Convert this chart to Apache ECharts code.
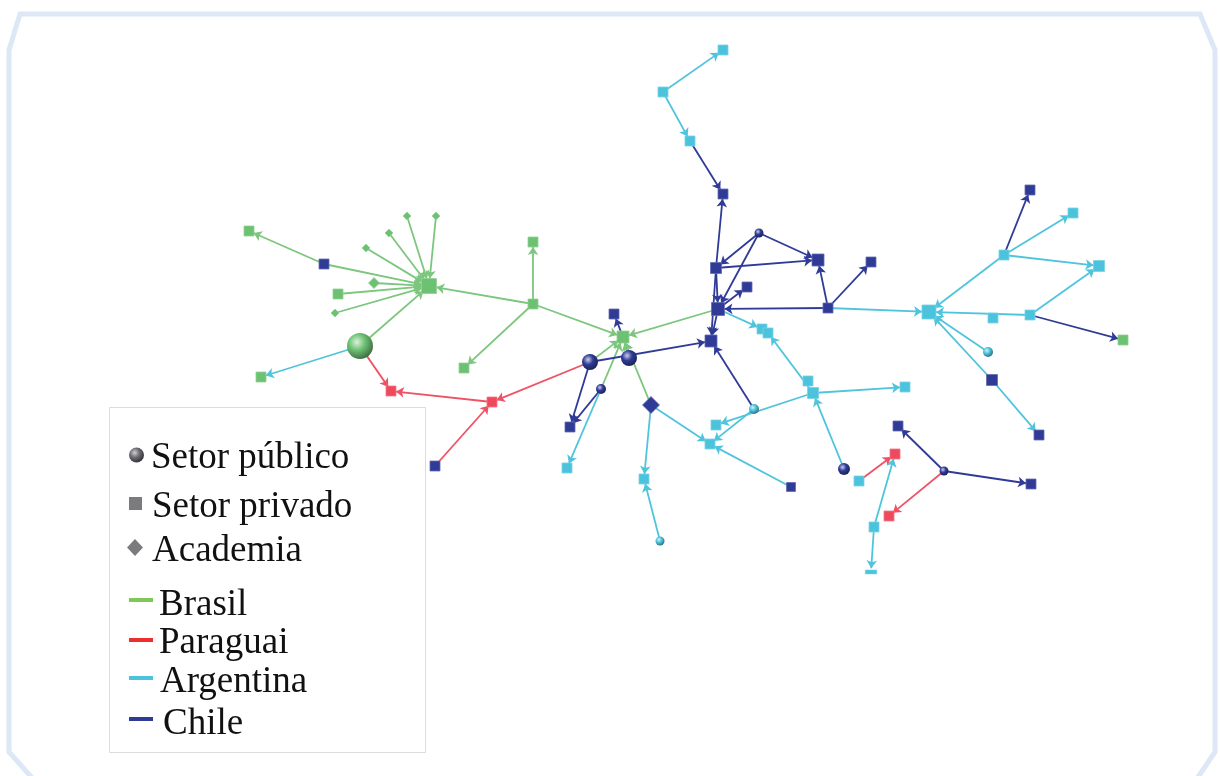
<!DOCTYPE html>
<html>
<head>
<meta charset="utf-8">
<script src="https://cdn.jsdelivr.net/npm/echarts@6/dist/echarts.min.js"></script>
<style>
html,body{margin:0;padding:0;background:#fff;}
#chart{width:1220px;height:776px;}
</style>
</head>
<body>
<div id="chart"></div>
<script>
// ---------------- DATA ----------------
const nodeNames = ['B_hub','B1','C_a','D1','D2','D3','D4','D5','B2','D6','S_BR','B3','B4','B5','B6','B7',
  'P1','P2','C_b','S1','S2','S3','C1','Dm','C2','A1','A2','A3','C3','Ch','C4','C5','S4','C6','C7','C8','C9',
  'A9','A5','A10','A6a','A6b','A_hub','A11','C10','A12','A13','A14','A15','B8','A16','C11','C12',
  'A7','A8','A17','S5','A18','A4','C13','S6','C14','P3','A19','S7','C15','P4','A20','A21'];
const nodeX = [429,249,324,407,436,389,366,374,338,335,360,261,533,533,464,623,
  391,492,435,590,629,601,614,651,570,567,644,660,711,718,716,723,759,818,747,828,871,
  723,663,690,762,768,929,1004,1030,1073,1099,993,1030,1123,988,992,1039,
  808,813,905,754,716,710,791,844,898,895,859,944,1031,889,874,871];
const nodeY = [286,231,264,216,216,233,248,283,294,313,346,377,242,304,368,337,
  391,402,466,362,358,389,314,405,427,468,479,541,341,309,268,194,233,260,287,308,262,
  50,92,141,329,333,312,255,190,213,266,318,315,340,352,380,435,
  381,393,387,409,425,444,487,469,426,454,481,471,484,516,527,572];
// sector: pub = Setor público, priv = Setor privado, acad = Academia, end = stub
const nodeSector = ['priv','priv','priv','acad','acad','acad','acad','acad','priv','acad','pub','priv','priv','priv','priv','priv',
  'priv','priv','priv','pub','pub','pub','priv','acad','priv','priv','priv','pub','priv','priv','priv','priv','pub','priv','priv','priv','priv',
  'priv','priv','priv','priv','priv','priv','priv','priv','priv','priv','priv','priv','priv','pub','priv','priv',
  'priv','priv','priv','pub','priv','priv','priv','pub','priv','priv','priv','pub','priv','priv','priv','end'];
const nodeCountry = ['BR','BR','CL','BR','BR','BR','BR','BR','BR','BR','BR','BR','BR','BR','BR','BR',
  'PY','PY','CL','CL','CL','CL','CL','CL','CL','AR','AR','AR','CL','CL','CL','CL','CL','CL','CL','CL','CL',
  'AR','AR','AR','AR','AR','AR','AR','CL','AR','AR','AR','AR','BR','AR','CL','CL',
  'AR','AR','AR','AR','AR','AR','CL','CL','CL','PY','AR','CL','CL','PY','AR','AR'];

// edges: [source, target, country]
const edges = [
  ['C_a','B1','BR'],['C_a','B_hub','BR'],['D1','B_hub','BR'],['D2','B_hub','BR'],['D3','B_hub','BR'],
  ['D4','B_hub','BR'],['D5','B_hub','BR'],['B2','B_hub','BR'],['D6','B_hub','BR'],['S_BR','B_hub','BR'],
  ['B5','B_hub','BR'],['B5','B4','BR'],['B5','B6','BR'],['B5','B7','BR'],
  ['S_BR','B3','AR'],['S_BR','P1','PY'],['P2','P1','PY'],['S1','P2','PY'],['C_b','P2','PY'],
  ['S1','B7','BR'],['S2','B7','BR'],['S3','B7','BR'],['Dm','B7','BR'],['Ch','B7','BR'],
  ['B7','C1','CL'],['S1','C2','CL'],['S3','C2','CL'],['S3','A1','AR'],['S1','C3','CL'],
  ['Dm','A2','AR'],['A3','A2','AR'],['Dm','A4','AR'],
  ['A5','A9','AR'],['A5','A10','AR'],['A10','C5','CL'],['C4','C5','CL'],
  ['S4','C4','CL'],['S4','Ch','CL'],['S4','C6','CL'],['C4','C6','CL'],['C4','Ch','CL'],['C4','C3','CL'],
  ['Ch','C7','CL'],['Ch','C3','CL'],['C8','Ch','CL'],['C8','C6','CL'],['C8','C9','CL'],['C8','A_hub','AR'],
  ['Ch','A6a','AR'],['A8','A6b','AR'],['S5','C3','CL'],['A8','A17','AR'],['A8','A18','AR'],
  ['S5','A4','AR'],['S6','A8','AR'],['C13','A4','AR'],
  ['A11','A_hub','AR'],['A11','C10','CL'],['A11','A12','AR'],['A11','A13','AR'],
  ['A15','A_hub','AR'],['A15','A13','AR'],['A15','B8','CL'],['A16','A_hub','AR'],
  ['C11','A_hub','AR'],['C11','C12','AR'],
  ['S7','C14','CL'],['S7','C15','CL'],['S7','P4','PY'],['A19','P3','PY'],['A20','P3','AR'],['A20','A21','AR']
];

const sectorLabels = ['Setor público','Setor privado','Academia'];
const countryLabels = ['Brasil','Paraguai','Argentina','Chile'];

// ---------------- STYLE ----------------
const countryColor = {BR:'#6dc173', PY:'#ee4a5e', AR:'#4cc3dc', CL:'#2f3b96'};
const edgeColor = {BR:'#7cc67e', PY:'#ef5265', AR:'#4fc4dd', CL:'#2f3b96'};
const legendLineColor = {BR:'#7cc95a', PY:'#ee2d2d', AR:'#4cc3dc', CL:'#2f3b96'};
const sizeOverride = {B_hub:15,B7:12,Ch:13,A_hub:14,C3:12,C6:12,C4:11,S_BR:26,S1:16,S2:16,S6:12,Dm:17,D5:11,
  S3:10,S4:9,S5:10,S7:9,A16:10,A3:9,A6a:10,A6b:10,A7:10,A8:11,A13:11,C11:11,C13:9};
const sectorSymbol = {pub:'circle', priv:'rect', acad:'diamond', end:'rect'};
const sectorSize = {pub:10, priv:10, acad:8, end:[11,4]};

function shade(hex, f){
  const n = parseInt(hex.slice(1),16);
  let r=(n>>16)&255,g=(n>>8)&255,b=n&255;
  if(f>0){ r=r+(255-r)*f; g=g+(255-g)*f; b=b+(255-b)*f; }
  else { r=r*(1+f); g=g*(1+f); b=b*(1+f); }
  return 'rgb('+Math.round(r)+','+Math.round(g)+','+Math.round(b)+')';
}
function sphere(hex){
  return {type:'radial', x:0.38, y:0.35, r:0.7, colorStops:[
    {offset:0,color:shade(hex,0.75)},{offset:0.45,color:hex},{offset:1,color:shade(hex,-0.45)}]};
}

const nodes = nodeNames.map((n,i)=>{
  const sec = nodeSector[i], c = countryColor[nodeCountry[i]];
  return {
    name:n,
    value:[nodeX[i], nodeY[i]],
    symbol: sectorSymbol[sec],
    symbolSize: sizeOverride[n] !== undefined ? sizeOverride[n] : sectorSize[sec],
    itemStyle:{ color: sec==='pub' ? sphere(c) : c, borderColor: sec==='pub' ? 'transparent' : shade(c,0.25), borderWidth: sec==='pub'?0:0.8 }
  };
});
const links = edges.map(e=>({source:e[0], target:e[1], lineStyle:{color:edgeColor[e[2]]}}));

// ---------------- LEGEND (graphic) ----------------
const gray = '#7b7b7d';
const legendText = (txt,x,y)=>({type:'text', left:x, top:y, style:{text:txt, fill:'#111', font:'37px "Liberation Serif", "Times New Roman", serif'}});
const lineY = [600,640,678,719];
const legendGraphics = [
  {type:'polygon', shape:{points:[[20,14],[1200,14],[1215,50],[1215,752],[1196,780],[34,780],[9,752],[9,50]]},
   style:{fill:'none', stroke:'#dde8f6', lineWidth:5}, z:1},
  {type:'rect', shape:{x:109.5,y:407.5,width:316,height:345}, style:{fill:'#fff', stroke:'#dcdcdc', lineWidth:1}, z:10},
  {type:'circle', shape:{cx:136.5,cy:455,r:7.5}, style:{fill:{type:'radial',x:0.38,y:0.35,r:0.7,colorStops:[{offset:0,color:'#d0d0d2'},{offset:0.45,color:'#6e6e72'},{offset:1,color:'#2e2e32'}]}}, z:11},
  {type:'rect', shape:{x:129,y:497,width:13,height:13}, style:{fill:gray}, z:11},
  {type:'polygon', shape:{points:[[135,539],[143,547.5],[135,556],[127,547.5]]}, style:{fill:gray}, z:11}
];
['BR','PY','AR','CL'].forEach((key,i)=>{
  legendGraphics.push({type:'rect', shape:{x:129,y:lineY[i]-2,width:24,height:4}, style:{fill:legendLineColor[key]}, z:11});
});
const txtPos = [[151,440],[152,489],[152,533],[159,587],[159,625],[160,664],[163,706]];
sectorLabels.concat(countryLabels).forEach((t,i)=>{
  const g = legendText(t, txtPos[i][0], txtPos[i][1]); g.z = 11; legendGraphics.push(g);
});

// ---------------- CHART ----------------
const chart = echarts.init(document.getElementById('chart'));
chart.setOption({
  animation:false,
  backgroundColor:'#fff',
  grid:{left:0,right:0,top:0,bottom:0},
  xAxis:{type:'value',min:0,max:1220,show:false},
  yAxis:{type:'value',min:0,max:776,inverse:true,show:false},
  graphic: legendGraphics,
  series:[{
    type:'graph',
    coordinateSystem:'cartesian2d',
    layout:'none',
    data:nodes,
    links:links,
    edgeSymbol:['none','arrow'],
    edgeSymbolSize:[0,8],
    lineStyle:{width:1.8, opacity:1, curveness:0},
    label:{show:false},
    emphasis:{disabled:true},
    z:5
  }]
});
</script>
</body>
</html>
